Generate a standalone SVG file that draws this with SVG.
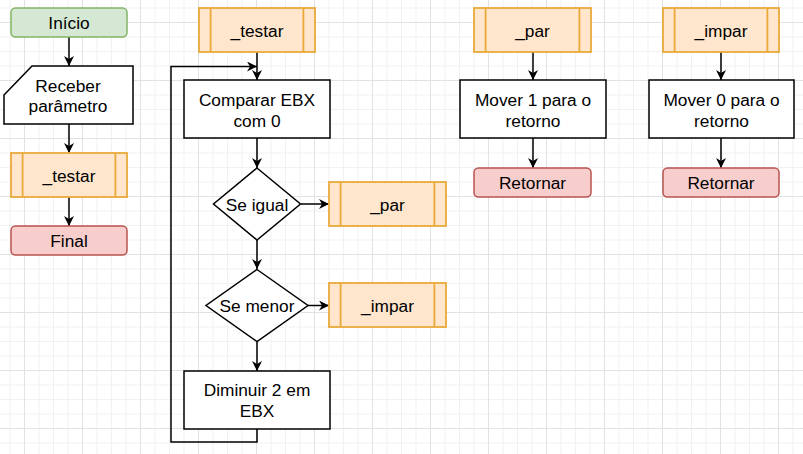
<svg xmlns="http://www.w3.org/2000/svg" width="803" height="454" viewBox="0 0 803 454">
<defs>
<pattern id="grid" patternUnits="userSpaceOnUse" x="24" y="22" width="58" height="58">
<rect x="14.5" y="0" width="1" height="58" fill="#f1f1f1"/>
<rect x="29" y="0" width="1" height="58" fill="#f1f1f1"/>
<rect x="43.5" y="0" width="1" height="58" fill="#f1f1f1"/>
<rect x="0" y="14.5" width="58" height="1" fill="#f1f1f1"/>
<rect x="0" y="29" width="58" height="1" fill="#f1f1f1"/>
<rect x="0" y="43.5" width="58" height="1" fill="#f1f1f1"/>
<rect x="0" y="0" width="1" height="58" fill="#e2e2e2"/>
<rect x="0" y="0" width="58" height="1" fill="#e2e2e2"/>
</pattern>
<marker id="arr" markerUnits="userSpaceOnUse" markerWidth="10" markerHeight="10" viewBox="0 0 10 10" refX="10" refY="5" orient="auto">
<path d="M0,0 L10,5 L0,10 L3,5 Z" fill="#000"/>
</marker>
</defs>
<style>
text{font-family:"Liberation Sans",Arial,sans-serif;font-size:17.3px;fill:#000;text-anchor:middle}
.start{fill:#d5e8d4;stroke:#82b366;stroke-width:1.5}
.end{fill:#f8cecc;stroke:#b85450;stroke-width:1.5}
.proc{fill:#fff;stroke:#000;stroke-width:1.5}
.sub{fill:#ffe6cc;stroke:#e9a93a;stroke-width:1.8}
.edge{fill:none;stroke:#000;stroke-width:1.5;marker-end:url(#arr)}
</style>
<rect width="803" height="454" fill="#fff"/>
<rect width="803" height="454" fill="url(#grid)"/>

<g id="connectors">
<path class="edge" d="M69,37 V66"/>
<path class="edge" d="M69,124 V153"/>
<path class="edge" d="M69,197 V226"/>
<path class="edge" d="M257,52 V80"/>
<path class="edge" d="M257,138 V168"/>
<path class="edge" d="M301,204 H329"/>
<path class="edge" d="M257,240 V269"/>
<path class="edge" d="M308,305.5 H329"/>
<path class="edge" d="M257,342 V371"/>
<path class="edge" d="M257,429 V442 H171 V66.5 H257"/>
<path class="edge" d="M533,52 V80"/>
<path class="edge" d="M533,138 V168"/>
<path class="edge" d="M721,52 V80"/>
<path class="edge" d="M721,138 V168"/>
</g>

<g id="inicio">
<rect class="start" x="11" y="8" width="116" height="29" rx="4.5"/>
<text x="69" y="29">Início</text>
</g>
<g id="receber">
<path class="proc" d="M4,95 L32,66 H133 V124 H4 Z"/>
<text x="68" y="92">Receber</text>
<text x="68" y="111.5">parâmetro</text>
</g>
<g id="testar-call">
<rect class="sub" x="11" y="153" width="116" height="44"/>
<line class="sub" x1="22.6" y1="153" x2="22.6" y2="197"/>
<line class="sub" x1="115.4" y1="153" x2="115.4" y2="197"/>
<text x="69" y="181.5">_testar</text>
</g>
<g id="final">
<rect class="end" x="11" y="226" width="116" height="29" rx="4.5"/>
<text x="69" y="246.5">Final</text>
</g>

<g id="testar">
<rect class="sub" x="199" y="8" width="116" height="44"/>
<line class="sub" x1="210.6" y1="8" x2="210.6" y2="52"/>
<line class="sub" x1="303.4" y1="8" x2="303.4" y2="52"/>
<text x="257" y="36.5">_testar</text>
</g>
<g id="comparar">
<rect class="proc" x="184" y="80" width="146" height="58"/>
<text x="257" y="106">Comparar EBX</text>
<text x="257" y="126.5">com 0</text>
</g>
<g id="se-igual">
<path class="proc" d="M257,168 L300.5,204 L257,240 L213.5,204 Z"/>
<text x="257" y="210.5">Se igual</text>
</g>
<g id="par-call">
<rect class="sub" x="329" y="182" width="117" height="44"/>
<line class="sub" x1="340.6" y1="182" x2="340.6" y2="226"/>
<line class="sub" x1="434.4" y1="182" x2="434.4" y2="226"/>
<text x="387.5" y="210.5">_par</text>
</g>
<g id="se-menor">
<path class="proc" d="M257,269.5 L308,305.5 L257,341.5 L206,305.5 Z"/>
<text x="257" y="311.5">Se menor</text>
</g>
<g id="impar-call">
<rect class="sub" x="329" y="283" width="117" height="44"/>
<line class="sub" x1="340.6" y1="283" x2="340.6" y2="327"/>
<line class="sub" x1="434.4" y1="283" x2="434.4" y2="327"/>
<text x="387.5" y="311.5">_impar</text>
</g>
<g id="diminuir">
<rect class="proc" x="184" y="371" width="146" height="58"/>
<text x="257" y="396">Diminuir 2 em</text>
<text x="257" y="416.5">EBX</text>
</g>

<g id="par">
<rect class="sub" x="474" y="8" width="117" height="44"/>
<line class="sub" x1="485.6" y1="8" x2="485.6" y2="52"/>
<line class="sub" x1="579.4" y1="8" x2="579.4" y2="52"/>
<text x="532.5" y="36.5">_par</text>
</g>
<g id="mover1">
<rect class="proc" x="460" y="80" width="146" height="58"/>
<text x="533" y="106">Mover 1 para o</text>
<text x="533" y="126.5">retorno</text>
</g>
<g id="retornar1">
<rect class="end" x="474" y="168" width="117" height="29" rx="4.5"/>
<text x="532.5" y="188.5">Retornar</text>
</g>

<g id="impar">
<rect class="sub" x="663" y="8" width="116" height="44"/>
<line class="sub" x1="674.6" y1="8" x2="674.6" y2="52"/>
<line class="sub" x1="767.4" y1="8" x2="767.4" y2="52"/>
<text x="721" y="36.5">_impar</text>
</g>
<g id="mover0">
<rect class="proc" x="649" y="80" width="145" height="58"/>
<text x="721.5" y="106">Mover 0 para o</text>
<text x="721.5" y="126.5">retorno</text>
</g>
<g id="retornar0">
<rect class="end" x="663" y="168" width="116" height="29" rx="4.5"/>
<text x="721" y="188.5">Retornar</text>
</g>
</svg>
